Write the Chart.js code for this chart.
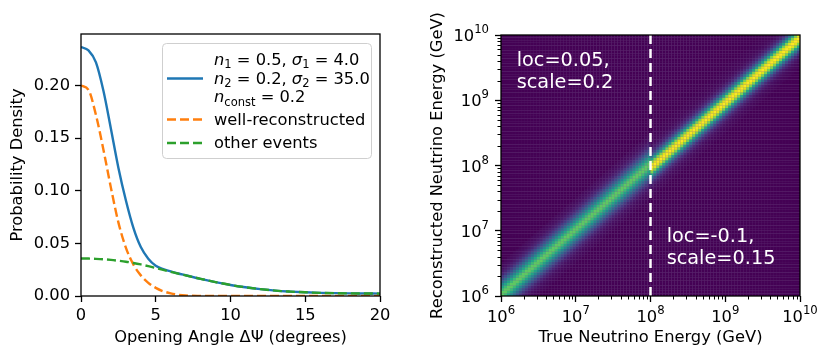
<!DOCTYPE html>
<html><head><meta charset="utf-8">
<script src="https://cdn.jsdelivr.net/npm/chart.js@4.4.1/dist/chart.umd.min.js"></script>
<style>
html,body{margin:0;padding:0;background:#fff;}
#wrap{position:relative;width:831px;height:360px;overflow:hidden;}
.box{position:absolute;top:0;height:360px;}
canvas{display:block;}
</style></head><body>
<div id="wrap">
  <div class="box" style="left:0;width:415px"><canvas id="c1" width="415" height="360"></canvas></div>
  <div class="box" style="left:415px;width:416px"><canvas id="c2" width="416" height="360"></canvas></div>
</div>
<script>
// ---------------- data: left panel ----------------
const angleDeg          = [0, 0.5, 1, 1.5, 2, 2.5, 3, 3.5, 4, 4.5, 5, 5.5, 6, 6.5, 7, 8, 9, 10, 11, 12, 13, 14, 15, 16, 17, 18, 19, 20];
const totalDensity      = [0.2366, 0.2335, 0.222, 0.195, 0.159, 0.122, 0.091, 0.065, 0.0465, 0.0355, 0.0288, 0.0256, 0.0234, 0.0214, 0.0197, 0.0163, 0.0132, 0.0105, 0.0083, 0.0065, 0.0051, 0.0042, 0.0035, 0.0030, 0.0027, 0.0025, 0.0024, 0.0023];
const wellReconstructed = [0.200, 0.196, 0.172, 0.139, 0.103, 0.070, 0.046, 0.030, 0.0196, 0.0125, 0.0077, 0.0045, 0.0025, 0.0012, 0.0005, 0.0001, 0, 0, 0, 0, 0, 0, 0, 0, 0, 0, 0, 0];
const otherEvents       = [0.0357, 0.0356, 0.0353, 0.0349, 0.0343, 0.0335, 0.0326, 0.0314, 0.0300, 0.0284, 0.0266, 0.0248, 0.0230, 0.0212, 0.0196, 0.0163, 0.0132, 0.0105, 0.0083, 0.0065, 0.0051, 0.0042, 0.0035, 0.0030, 0.0027, 0.0025, 0.0024, 0.0023];
const angleTicks   = [0, 5, 10, 15, 20];
const densityTicks = [0, 0.05, 0.10, 0.15, 0.20];
const legendParams = [
  [{k:'i',t:'n'},{k:'s',t:'1'},{k:'r',t:' = 0.5, '},{k:'i',t:'σ'},{k:'s',t:'1'},{k:'r',t:' = 4.0'}],
  [{k:'i',t:'n'},{k:'s',t:'2'},{k:'r',t:' = 0.2, '},{k:'i',t:'σ'},{k:'s',t:'2'},{k:'r',t:' = 35.0'}],
  [{k:'i',t:'n'},{k:'s',t:'const'},{k:'r',t:' = 0.2'}]
];
const seriesNames = ['total', 'well-reconstructed', 'other events'];

// ---------------- data: right panel ----------------
const energyDecades  = [6, 7, 8, 9, 10];
const tickBase = '10';
const tickExponents  = ['6', '7', '8', '9', '10'];
const nEnergyBins = 100;
const splitEnergy = 1e8;
// colour level (0..1) of a cell by its bin offset k = row - column, k = -12..12
const lowEnergyProfile  = [0.012, 0.018, 0.027, 0.040, 0.065, 0.100, 0.160, 0.240, 0.340, 0.460, 0.580, 0.680, 0.750, 0.750, 0.680, 0.580, 0.460, 0.340, 0.240, 0.160, 0.100, 0.065, 0.040, 0.027, 0.018];
const highEnergyProfile = [0.010, 0.015, 0.025, 0.040, 0.070, 0.120, 0.220, 0.380, 0.580, 0.800, 0.950, 1.000, 0.950, 0.800, 0.580, 0.380, 0.220, 0.120, 0.070, 0.040, 0.025, 0.015, 0.010, 0.007, 0.005];
const annotationLines = [['loc=0.05,', 'scale=0.2'], ['loc=-0.1,', 'scale=0.15']];

// ---------------- styling helpers ----------------
const FONT = '"DejaVu Sans", "Liberation Sans", sans-serif';
const FS = 16.3;
Chart.defaults.font.family = FONT;
Chart.defaults.font.size = FS;
Chart.defaults.color = '#000';

const viridisStops = ['#440154','#48186a','#472d7b','#424086','#3b528b','#33638d','#2c728e','#26828e','#21918c','#1fa088','#28ae80','#3fbc73','#5ec962','#84d44b','#addc30','#d8e219','#fde725'];
function hexRGB(h){return [parseInt(h.slice(1,3),16),parseInt(h.slice(3,5),16),parseInt(h.slice(5,7),16)];}
function viridis(t){
  t = Math.max(0, Math.min(1, t));
  const p = t*16, i = Math.min(15, Math.floor(p)), f = p - i;
  const a = hexRGB(viridisStops[i]), b = hexRGB(viridisStops[i+1]);
  return 'rgb(' + a.map((v,j)=>Math.round(v+(b[j]-v)*f)).join(',') + ')';
}

const framePlugin = {
  id: 'frame',
  afterDraw(chart){
    const {ctx, chartArea:a} = chart;
    ctx.save(); ctx.strokeStyle = '#000'; ctx.lineWidth = 1.3;
    ctx.strokeRect(a.left, a.top, a.right - a.left, a.bottom - a.top);
    ctx.restore();
  }
};

function drawRich(ctx, x, y, segs){
  for (const s of segs){
    if (s.k === 'i') ctx.font = 'italic ' + FS + 'px ' + FONT;
    else if (s.k === 's') ctx.font = '11.5px ' + FONT;
    else ctx.font = FS + 'px ' + FONT;
    ctx.fillText(s.t, x, s.k === 's' ? y + 3.5 : y);
    x += ctx.measureText(s.t).width;
  }
}

const legendPlugin = {
  id: 'richLegend',
  afterDraw(chart){
    const {ctx} = chart;
    const ds = chart.data.datasets;
    ctx.save();
    const bx = 162.5, by = 43.5, bw = 209, bh = 115, r = 4;
    ctx.beginPath();
    ctx.moveTo(bx + r, by); ctx.lineTo(bx + bw - r, by); ctx.quadraticCurveTo(bx + bw, by, bx + bw, by + r);
    ctx.lineTo(bx + bw, by + bh - r); ctx.quadraticCurveTo(bx + bw, by + bh, bx + bw - r, by + bh);
    ctx.lineTo(bx + r, by + bh); ctx.quadraticCurveTo(bx, by + bh, bx, by + bh - r);
    ctx.lineTo(bx, by + r); ctx.quadraticCurveTo(bx, by, bx + r, by); ctx.closePath();
    ctx.fillStyle = 'rgba(255,255,255,0.8)'; ctx.fill();
    ctx.strokeStyle = '#cfcfcf'; ctx.lineWidth = 1; ctx.stroke();
    const handleY = [78.5, 119.5, 143];
    ds.forEach((d, i) => {
      ctx.beginPath(); ctx.strokeStyle = d.borderColor; ctx.lineWidth = 2.4;
      ctx.setLineDash(d.borderDash || []);
      ctx.moveTo(167, handleY[i]); ctx.lineTo(203, handleY[i]); ctx.stroke();
    });
    ctx.setLineDash([]);
    ctx.fillStyle = '#000'; ctx.textBaseline = 'alphabetic'; ctx.textAlign = 'left';
    const tx = 214;
    const mathBase = [64.5, 83.5, 102];
    legendParams.forEach((segs, i) => drawRich(ctx, tx, mathBase[i], segs));
    ctx.font = FS + 'px ' + FONT;
    ctx.fillText(seriesNames[1], tx, 125);
    ctx.fillText(seriesNames[2], tx, 148);
    ctx.restore();
  }
};

const pts = arr => angleDeg.map((x, i) => ({x, y: arr[i]}));
const lineBase = {fill:false, pointRadius:0, borderWidth:2.4, cubicInterpolationMode:'monotone', clip:0};

new Chart(document.getElementById('c1'), {
  type: 'line',
  data: { datasets: [
    Object.assign({label: seriesNames[0], data: pts(totalDensity), borderColor:'#1f77b4', order:3}, lineBase),
    Object.assign({label: seriesNames[1], data: pts(wellReconstructed), borderColor:'#ff7f0e', borderDash:[9,4], order:2}, lineBase),
    Object.assign({label: seriesNames[2], data: pts(otherEvents), borderColor:'#2ca02c', borderDash:[9,4], order:1}, lineBase)
  ]},
  options: {
    responsive:false, animation:false, devicePixelRatio:1,
    layout:{padding:{left:0, top:34, right:35, bottom:0}},
    plugins:{legend:{display:false}, tooltip:{enabled:false}},
    scales:{
      x:{type:'linear', min:0, max:20,
        afterBuildTicks: s => { s.ticks = angleTicks.map(v => ({value:v})); },
        afterFit: s => { s.height = 64; },
        ticks:{callback: v => String(v), padding:4, maxRotation:0, autoSkip:false, font:{size:FS}, color:'#000'},
        grid:{drawOnChartArea:false, drawTicks:true, tickLength:6, tickWidth:1.3, tickColor:'#000'},
        border:{display:false},
        title:{display:true, text:'Opening Angle ΔΨ (degrees)', color:'#000', font:{size:FS}, padding:{top:0, bottom:12}}
      },
      y:{type:'linear', min:0, max:0.249,
        afterBuildTicks: s => { s.ticks = densityTicks.map(v => ({value:v})); },
        afterFit: s => { s.width = 81; },
        ticks:{callback: v => v.toFixed(2), padding:5, autoSkip:false, font:{size:FS}, color:'#000'},
        grid:{drawOnChartArea:false, drawTicks:true, tickLength:6, tickWidth:1.3, tickColor:'#000'},
        border:{display:false},
        title:{display:true, text:'Probability Density', color:'#000', font:{size:FS}, padding:{top:8, bottom:0}}
      }
    }
  },
  plugins:[framePlugin, legendPlugin]
});

// ---------------- right panel ----------------
const logEdges = Array.from({length: nEnergyBins + 1}, (_, i) => energyDecades[0] + (energyDecades[energyDecades.length-1] - energyDecades[0]) * i / nEnergyBins);
const PR = (lowEnergyProfile.length - 1) / 2;

const heatmapPlugin = {
  id: 'heatmap',
  beforeDatasetsDraw(chart){
    const {ctx, chartArea:a, scales:{x, y}} = chart;
    ctx.save();
    ctx.beginPath(); ctx.rect(a.left, a.top, a.right - a.left, a.bottom - a.top); ctx.clip();
    ctx.fillStyle = '#7f6899';
    ctx.fillRect(a.left, a.top, a.right - a.left, a.bottom - a.top);
    for (let i = 0; i < nEnergyBins; i++){
      const x0 = x.getPixelForValue(Math.pow(10, logEdges[i]));
      const x1 = x.getPixelForValue(Math.pow(10, logEdges[i+1]));
      const centre = Math.pow(10, (logEdges[i] + logEdges[i+1]) / 2);
      const prof = centre < splitEnergy ? lowEnergyProfile : highEnergyProfile;
      for (let j = 0; j < nEnergyBins; j++){
        const k = j - i;
        const v = (k >= -PR && k <= PR) ? prof[k + PR] : 0;
        const y0 = y.getPixelForValue(Math.pow(10, logEdges[j+1]));
        const y1 = y.getPixelForValue(Math.pow(10, logEdges[j]));
        ctx.fillStyle = viridis(v);
        ctx.fillRect(x0, y0, x1 - x0, y1 - y0);
      }
    }
    ctx.restore();
  },
  afterDatasetsDraw(chart){
    const {ctx, chartArea:a, scales:{x, y}} = chart;
    ctx.save();
    const xs = x.getPixelForValue(splitEnergy);
    ctx.strokeStyle = '#fff'; ctx.lineWidth = 2.5; ctx.setLineDash([9,5]);
    ctx.beginPath(); ctx.moveTo(xs, a.top); ctx.lineTo(xs, a.bottom); ctx.stroke();
    ctx.setLineDash([]);
    ctx.fillStyle = '#fff'; ctx.font = '19.3px ' + FONT; ctx.textAlign = 'left'; ctx.textBaseline = 'alphabetic';
    const W = a.right - a.left, H = a.bottom - a.top;
    const anchors = [[0.0525, 0.1195], [0.554, 0.795]];
    annotationLines.forEach((lines, n) => {
      lines.forEach((t, m) => ctx.fillText(t, a.left + anchors[n][0]*W, a.top + anchors[n][1]*H + m*22));
    });
    ctx.restore();
  },
  afterDraw(chart){
    const {ctx, chartArea:a, scales:{x, y}} = chart;
    ctx.save(); ctx.strokeStyle = '#000'; ctx.lineWidth = 1;
    ctx.beginPath();
    for (let d = energyDecades[0]; d < energyDecades[energyDecades.length-1]; d++){
      for (let m = 2; m <= 9; m++){
        const v = m * Math.pow(10, d);
        const px = Math.round(x.getPixelForValue(v)) + 0.5;
        ctx.moveTo(px, a.bottom); ctx.lineTo(px, a.bottom + 3.5);
        const py = Math.round(y.getPixelForValue(v)) + 0.5;
        ctx.moveTo(a.left, py); ctx.lineTo(a.left - 3.5, py);
      }
    }
    ctx.stroke();
    ctx.fillStyle = '#000'; ctx.textBaseline = 'alphabetic'; ctx.textAlign = 'left';
    const bigF = FS + 'px ' + FONT, supF = '11.7px ' + FONT;
    energyDecades.forEach((d, n) => {
      const v = Math.pow(10, d);
      ctx.font = bigF; const wb = ctx.measureText(tickBase).width;
      ctx.font = supF; const we = ctx.measureText(tickExponents[n]).width;
      const px = x.getPixelForValue(v), sx = px - (wb + we) / 2;
      ctx.font = bigF; ctx.fillText(tickBase, sx, a.bottom + 25.5);
      ctx.font = supF; ctx.fillText(tickExponents[n], sx + wb, a.bottom + 17.5);
      const py = y.getPixelForValue(v), ex = a.left - 12;
      ctx.font = supF; ctx.fillText(tickExponents[n], ex - we, py - 2);
      ctx.font = bigF; ctx.fillText(tickBase, ex - we - wb, py + 6);
    });
    ctx.restore();
  }
};

new Chart(document.getElementById('c2'), {
  type: 'scatter',
  data: { datasets: [{label:'events', data: [], pointRadius:0}] },
  options: {
    responsive:false, animation:false, devicePixelRatio:1,
    layout:{padding:{left:0, top:35, right:31, bottom:0}},
    plugins:{legend:{display:false}, tooltip:{enabled:false}},
    scales:{
      x:{type:'logarithmic', min:1e6, max:1e10,
        afterBuildTicks: s => { s.ticks = energyDecades.map(d => ({value: Math.pow(10, d)})); },
        afterFit: s => { s.height = 64; },
        ticks:{display:false},
        grid:{drawOnChartArea:false, drawTicks:true, tickLength:6, tickWidth:1.3, tickColor:'#000'},
        border:{display:false},
        title:{display:true, text:'True Neutrino Energy (GeV)', color:'#000', font:{size:FS}, padding:{top:0, bottom:12}}
      },
      y:{type:'logarithmic', min:1e6, max:1e10,
        afterBuildTicks: s => { s.ticks = energyDecades.map(d => ({value: Math.pow(10, d)})); },
        afterFit: s => { s.width = 86; },
        ticks:{display:false},
        grid:{drawOnChartArea:false, drawTicks:true, tickLength:6, tickWidth:1.3, tickColor:'#000'},
        border:{display:false},
        title:{display:true, text:'Reconstructed Neutrino Energy (GeV)', color:'#000', font:{size:FS}, padding:{top:13, bottom:0}}
      }
    }
  },
  plugins:[heatmapPlugin, framePlugin]
});
</script>
</body></html>
